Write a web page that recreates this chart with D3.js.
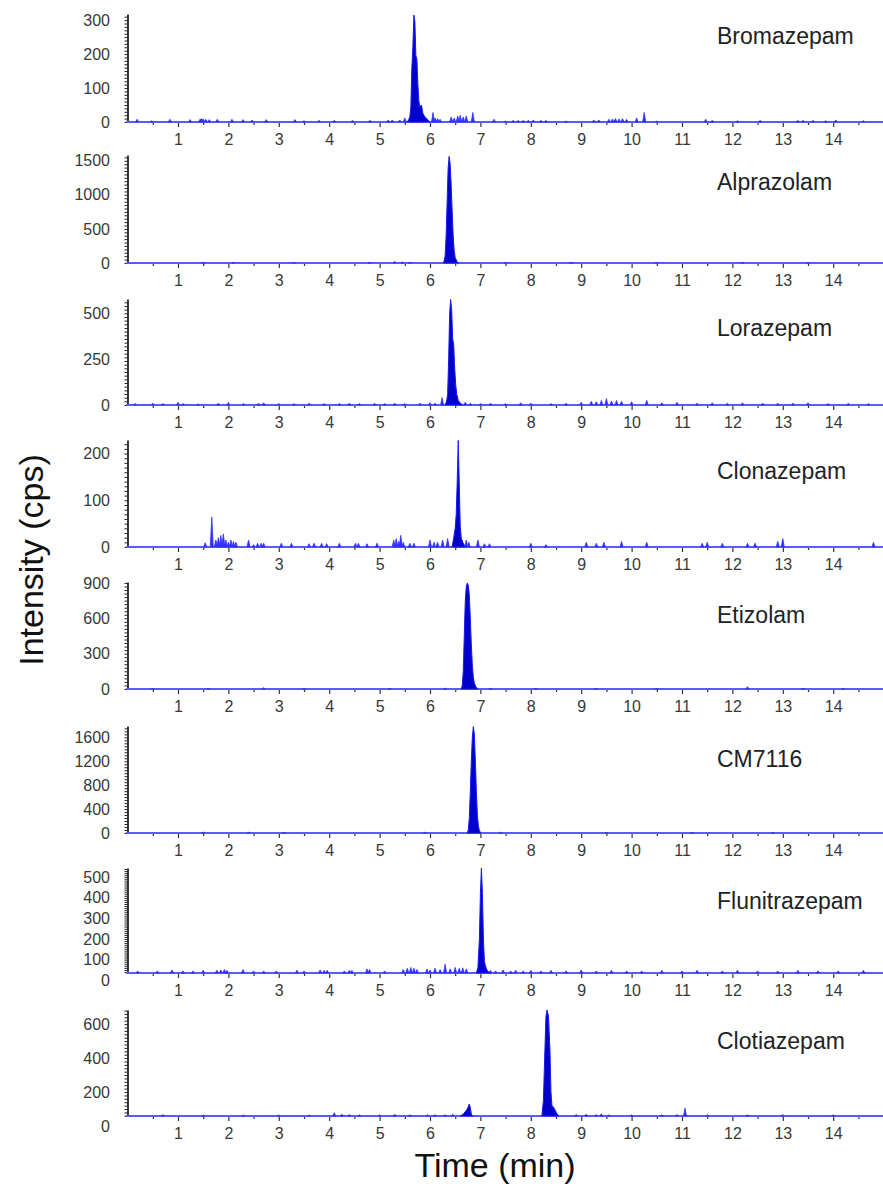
<!DOCTYPE html>
<html>
<head>
<meta charset="utf-8">
<script src="https://cdn.jsdelivr.net/npm/d3@7"></script>
<style>
  body { margin: 0; background: #fff; }
  svg { display: block; font-family: "Liberation Sans", Arial, sans-serif; }
</style>
</head>
<body>
<div id="chart"></div>
<script>
// compound names, one panel each
const compounds = ["Bromazepam", "Alprazolam", "Lorazepam", "Clonazepam",
  "Etizolam", "CM7116", "Flunitrazepam", "Clotiazepam"];

// y range of each panel (cps)
const yMin = [0, 0, 0, 0, 0, 0, 35, 59];
const yMax = [318, 1585, 578, 229, 908, 1790, 545, 683];
const yTickLabels = [
  [0, 100, 200, 300],
  [0, 500, 1000, 1500],
  [0, 250, 500],
  [0, 100, 200],
  [0, 300, 600, 900],
  [0, 400, 800, 1200, 1600],
  [0, 100, 200, 300, 400, 500],
  [0, 200, 400, 600]
];
const yMinorStep = [10, 50, 20, 10, 30, 50, 10, 20];

// time axis (min)
const timeTicks = [1, 2, 3, 4, 5, 6, 7, 8, 9, 10, 11, 12, 13, 14];
const timeMinor = [0.5, 1.5, 2.5, 3.5, 4.5, 5.5, 6.5, 7.5, 8.5, 9.5, 10.5, 11.5, 12.5, 13.5, 14.5];

// chromatographic peaks [time, intensity]
const peaks = [
  [[[5.55, 0], [5.58, 8], [5.60, 15], [5.62, 45], [5.64, 160], [5.66, 220], [5.68, 315], [5.70, 295],
    [5.72, 195], [5.74, 185], [5.76, 110], [5.78, 60], [5.80, 45], [5.83, 50], [5.86, 25], [5.90, 15], [5.95, 8], [6.0, 0]]],
  [[[6.27, 0], [6.30, 100], [6.32, 400], [6.34, 900], [6.36, 1400], [6.38, 1565], [6.40, 1450], [6.42, 1150],
    [6.44, 750], [6.46, 400], [6.48, 180], [6.50, 80], [6.53, 30], [6.56, 0]]],
  [[[6.30, 0], [6.33, 20], [6.35, 60], [6.37, 250], [6.39, 500], [6.41, 575], [6.43, 520], [6.45, 360],
    [6.47, 330], [6.49, 200], [6.51, 110], [6.53, 60], [6.56, 25], [6.60, 10], [6.65, 0]]],
  [[[6.44, 0], [6.47, 20], [6.50, 40], [6.52, 70], [6.54, 140], [6.56, 228], [6.58, 140], [6.60, 45],
    [6.62, 20], [6.65, 10], [6.70, 0]]],
  [[[6.62, 0], [6.64, 30], [6.66, 150], [6.68, 450], [6.70, 750], [6.72, 870], [6.74, 900], [6.76, 880],
    [6.78, 800], [6.80, 600], [6.82, 380], [6.84, 200], [6.86, 100], [6.88, 50], [6.91, 20], [6.95, 0]]],
  [[[6.74, 0], [6.76, 50], [6.78, 250], [6.80, 700], [6.82, 1200], [6.84, 1600], [6.86, 1780], [6.88, 1650],
    [6.90, 1200], [6.92, 700], [6.94, 300], [6.96, 120], [6.98, 40], [7.01, 0]]],
  [[[6.92, 35], [6.95, 60], [6.98, 200], [7.00, 420], [7.02, 545], [7.04, 420], [7.06, 200], [7.08, 90],
    [7.10, 70], [7.12, 55], [7.15, 42], [7.20, 35]]],
  [[[6.60, 59], [6.66, 70], [6.70, 85], [6.74, 100], [6.78, 130], [6.80, 110], [6.82, 70], [6.85, 59]],
   [[8.22, 59], [8.25, 150], [8.28, 450], [8.30, 640], [8.32, 683], [8.35, 650], [8.38, 450], [8.40, 200],
    [8.42, 120], [8.45, 112], [8.48, 95], [8.52, 72], [8.56, 59]]]
];

// baseline noise spikes [time, intensity]
const noise = [
  [[0.19, 8], [0.48, 4], [0.84, 8], [1.24, 7], [1.44, 9], [1.47, 10], [1.5, 9], [1.55, 8], [1.62, 7], [1.78, 8],
   [2.07, 8], [2.29, 7], [2.47, 6], [2.75, 7], [3.32, 7], [3.5, 4], [3.8, 5], [4.1, 5], [4.46, 5], [4.81, 5],
   [5.17, 6], [5.25, 6], [5.4, 6], [5.5, 12], [6.06, 28], [6.1, 12], [6.15, 10], [6.2, 8], [6.42, 15], [6.48, 12],
   [6.55, 18], [6.6, 20], [6.66, 15], [6.72, 18], [6.85, 28], [7.27, 8], [7.5, 3], [7.65, 5], [7.75, 5], [7.85, 5],
   [7.95, 5], [8.05, 6], [8.2, 5], [8.3, 5], [8.7, 3], [9.25, 6], [9.35, 6], [9.55, 8], [9.62, 9], [9.68, 10],
   [9.75, 9], [9.82, 10], [9.9, 8], [10.1, 12], [10.25, 28], [10.5, 3], [11.47, 8], [11.6, 5], [12.1, 4],
   [12.55, 5], [13.3, 5], [13.4, 5], [13.6, 5], [13.85, 4], [14.05, 6], [14.6, 4]],
  [[1.5, 8], [2.1, 5], [3.3, 6], [4.8, 8], [5.3, 25], [5.45, 15], [5.6, 8], [7.5, 5], [8.8, 5], [10.5, 5],
   [12.2, 5], [13.5, 5]],
  [[0.15, 8], [0.5, 10], [0.7, 8], [1.0, 15], [1.1, 8], [1.4, 6], [1.8, 10], [2.0, 14], [2.3, 8], [2.6, 10],
   [2.7, 12], [3.0, 8], [3.3, 8], [3.6, 10], [3.9, 8], [4.2, 8], [4.4, 10], [4.6, 8], [4.9, 10], [5.1, 8],
   [5.3, 10], [5.5, 8], [5.8, 10], [6.0, 12], [6.1, 10], [6.24, 40], [6.7, 15], [6.8, 10], [7.0, 8], [7.2, 10],
   [7.5, 8], [7.8, 12], [8.0, 10], [8.4, 8], [8.7, 10], [9.0, 15], [9.2, 20], [9.3, 18], [9.4, 25], [9.5, 35],
   [9.6, 22], [9.7, 25], [9.8, 20], [10.0, 18], [10.3, 25], [10.6, 12], [10.9, 15], [11.3, 10], [11.6, 12],
   [11.9, 10], [12.2, 12], [12.6, 10], [12.9, 10], [13.2, 10], [13.5, 12], [13.9, 8], [14.3, 10], [14.7, 8]],
  [[1.54, 9], [1.67, 64], [1.75, 15], [1.8, 20], [1.85, 25], [1.9, 28], [1.95, 15], [2.0, 10], [2.05, 15],
   [2.1, 12], [2.15, 10], [2.4, 15], [2.5, 5], [2.58, 8], [2.65, 8], [2.7, 8], [3.05, 8], [3.25, 8], [3.6, 7],
   [3.7, 8], [3.85, 8], [3.95, 7], [4.2, 8], [4.52, 8], [4.58, 8], [4.75, 7], [4.95, 8], [5.28, 15], [5.33, 18],
   [5.38, 12], [5.42, 25], [5.47, 10], [5.6, 8], [5.68, 8], [6.0, 15], [6.08, 10], [6.15, 10], [6.25, 15],
   [6.35, 18], [6.72, 15], [6.77, 10], [6.95, 15], [7.08, 7], [7.18, 7], [8.0, 8], [8.3, 5], [9.1, 10],
   [9.3, 8], [9.45, 10], [9.8, 12], [10.3, 10], [11.4, 8], [11.5, 10], [11.8, 8], [12.3, 8], [12.45, 8],
   [12.9, 12], [13.0, 18], [14.8, 10]],
  [[0.5, 5], [1.6, 5], [2.7, 12], [3.5, 5], [5.2, 5], [6.3, 8], [7.2, 6], [8.1, 6], [9.3, 5], [10.5, 6],
   [12.3, 20], [13.4, 6], [14.2, 6]],
  [[1.5, 15], [2.4, 12], [3.1, 10], [5.9, 15], [7.4, 12], [9.5, 10], [11.2, 10], [12.8, 10]],
  [[0.2, 45], [0.59, 45], [0.88, 50], [1.1, 45], [1.3, 45], [1.5, 48], [1.77, 48], [1.85, 50], [1.92, 52],
   [1.97, 48], [2.29, 52], [2.5, 45], [2.7, 45], [2.95, 45], [3.36, 48], [3.5, 45], [3.82, 50], [3.9, 48],
   [3.96, 48], [4.3, 45], [4.4, 48], [4.45, 47], [4.75, 55], [4.8, 52], [5.1, 45], [5.47, 52], [5.55, 58],
   [5.62, 62], [5.68, 58], [5.74, 52], [5.94, 55], [6.0, 50], [6.1, 58], [6.2, 52], [6.3, 78], [6.4, 55],
   [6.5, 62], [6.58, 58], [6.65, 60], [6.72, 55], [7.2, 48], [7.3, 45], [7.45, 50], [7.6, 45], [7.7, 48],
   [7.85, 45], [8.0, 48], [8.2, 45], [8.4, 48], [8.7, 45], [9.0, 50], [9.3, 45], [9.6, 48], [9.9, 45],
   [10.2, 45], [10.6, 48], [11.0, 45], [11.3, 48], [11.8, 45], [12.1, 48], [12.5, 45], [12.9, 45], [13.3, 48],
   [13.7, 45], [14.1, 45], [14.6, 48]],
  [[0.7, 68], [1.5, 65], [2.3, 65], [3.0, 65], [3.6, 65], [4.1, 78], [4.25, 70], [4.4, 68], [4.6, 66],
   [5.0, 66], [5.3, 70], [5.6, 66], [5.95, 68], [6.1, 66], [6.3, 66], [6.45, 70], [8.9, 68], [9.1, 70],
   [9.3, 68], [9.4, 72], [9.55, 66], [10.0, 66], [10.6, 66], [10.9, 68], [11.06, 105], [11.5, 66],
   [12.3, 66], [13.0, 68], [14.0, 66]]
];

// layout
const width = 883, height = 1191;
const axisX = 126;
const baselines = [122, 263, 405, 547, 689, 833, 973, 1116];
const tops = [14, 155, 299, 440, 582, 726, 868, 1010];
const nameY = [44, 190, 336, 479, 623, 767, 909, 1049];

const svg = d3.select("#chart")
  .append("svg")
  .attr("width", width)
  .attr("height", height);

const x = d3.scaleLinear().domain([0, 15]).range([127.6, 883.6]);

compounds.forEach((name, i) => {
  const y = d3.scaleLinear().domain([yMin[i], yMax[i]]).range([baselines[i], tops[i]]);
  const g = svg.append("g").attr("class", "panel");

  // x ticks (no domain line, the trace baseline sits there)
  const xMinor = g.append("g")
    .attr("transform", `translate(0,${baselines[i]})`)
    .call(d3.axisBottom(x).tickValues(timeMinor).tickSize(3).tickFormat(""));
  xMinor.select(".domain").remove();

  const xAxis = g.append("g")
    .attr("transform", `translate(0,${baselines[i]})`)
    .call(d3.axisBottom(x).tickValues(timeTicks).tickSize(5).tickPadding(7).tickFormat(d3.format("d")));
  xAxis.select(".domain").remove();
  xAxis.selectAll("text").attr("font-size", 16).attr("fill", "#383838");

  [xMinor, xAxis].forEach(a => a.selectAll("line").attr("stroke", "#333").attr("stroke-width", 1.2));

  // y axis with dense minor ticks
  const minor = d3.range(yMin[i] > 0 ? Math.ceil(yMin[i] / yMinorStep[i]) * yMinorStep[i] : 0, yMax[i], yMinorStep[i]);
  const yMinorAxis = g.append("g")
    .attr("transform", `translate(${axisX + 1.5},0)`)
    .call(d3.axisLeft(y).tickValues(minor).tickSizeInner(3).tickSizeOuter(0).tickFormat(""));
  yMinorAxis.select(".domain").attr("stroke", "#222").attr("stroke-width", 1.8);
  yMinorAxis.selectAll("line").attr("stroke", "#222").attr("stroke-width", 1);

  const yAxis = g.append("g")
    .attr("transform", `translate(${axisX},0)`)
    .call(d3.axisLeft(y).tickValues(yTickLabels[i]).tickSize(0).tickPadding(16).tickFormat(d3.format("d")));
  yAxis.select(".domain").remove();
  yAxis.selectAll("text").attr("font-size", 16).attr("fill", "#383838");

  // trace baseline
  g.append("line")
    .attr("x1", axisX).attr("x2", width)
    .attr("y1", y(yMin[i])).attr("y2", y(yMin[i]))
    .attr("stroke", "#5a5aff")
    .attr("stroke-width", 1.8);

  const area = d3.area()
    .x(d => x(d[0]))
    .y0(y(yMin[i]))
    .y1(d => y(d[1]));

  // noise spikes
  g.selectAll("path.spike")
    .data(noise[i])
    .join("path")
    .attr("class", "spike")
    .attr("d", d => area([[d[0] - 0.03, yMin[i]], d, [d[0] + 0.03, yMin[i]]]))
    .attr("fill", "#3030ff")
    .attr("stroke", "#3030ff")
    .attr("stroke-width", 0.8);

  // peaks
  g.selectAll("path.peak")
    .data(peaks[i])
    .join("path")
    .attr("class", "peak")
    .attr("d", area)
    .attr("fill", "#0000cc")
    .attr("stroke", "#1a1aee")
    .attr("stroke-width", 1);

  // compound name
  g.append("text")
    .attr("x", 717)
    .attr("y", nameY[i])
    .attr("font-size", 23)
    .attr("fill", "#222")
    .text(name);
});

// axis titles
svg.append("text")
  .attr("transform", "translate(43,560) rotate(-90)")
  .attr("text-anchor", "middle")
  .attr("font-size", 34)
  .attr("fill", "#111")
  .text("Intensity (cps)");

svg.append("text")
  .attr("x", 495)
  .attr("y", 1177)
  .attr("text-anchor", "middle")
  .attr("font-size", 34)
  .attr("fill", "#111")
  .text("Time (min)");
</script>
</body>
</html>
